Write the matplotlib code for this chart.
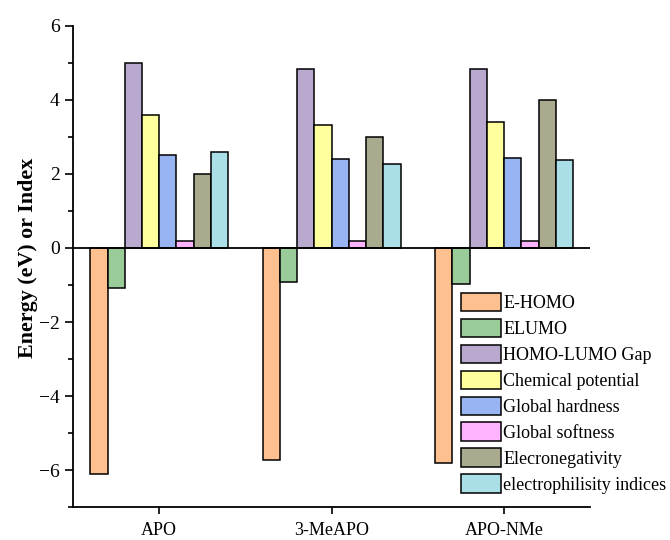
import numpy as np
import matplotlib.pyplot as plt
from matplotlib.ticker import MultipleLocator

plt.rcParams['font.family'] = ['Liberation Serif', 'DejaVu Serif']

molecules = ["APO", "3-MeAPO", "APO-NMe"]
labels = ["E-HOMO", "ELUMO", "HOMO-LUMO Gap", "Chemical potential",
          "Global hardness", "Global softness", "Elecronegativity",
          "electrophilisity indices"]
e_homo = [-6.10, -5.73, -5.82]
e_lumo = [-1.09, -0.91, -0.98]
gap = [5.01, 4.83, 4.84]
chem_pot = [3.60, 3.32, 3.40]
hardness = [2.51, 2.40, 2.42]
softness = [0.20, 0.20, 0.20]
electroneg = [2.00, 3.00, 4.00]
electrophil = [2.58, 2.27, 2.38]
colors = ["#ffc08f", "#99cc99", "#b9a9cf", "#ffff9e",
          "#98b4f2", "#ffb3ff", "#aaaa8f", "#aadfe8"]

series = [e_homo, e_lumo, gap, chem_pot, hardness, softness, electroneg, electrophil]

fig = plt.figure(figsize=(6.7, 5.4), dpi=100)
ax = fig.add_axes([0.109, 0.061, 0.772, 0.891])

x = np.arange(len(molecules))
w = 0.1
for i, vals in enumerate(series):
    ax.bar(x + (i - 3.5) * w, vals, w, color=colors[i], edgecolor="black",
           linewidth=1.1, label=labels[i])

ax.axhline(0, color="black", linewidth=1.3, zorder=3)
ax.set_xlim(-0.5, 2.5)
ax.set_ylim(-7, 6)
ax.set_xticks(x)
ax.set_xticklabels(molecules, fontsize=13)
ax.yaxis.set_minor_locator(MultipleLocator(1))
ax.set_yticks([-6, -4, -2, 0, 2, 4, 6])
ax.set_yticklabels(["\u22126", "\u22124", "\u22122", "0", "2", "4", "6"], fontsize=14)
ax.tick_params(axis="y", which="major", length=6, width=1.2, direction="out")
ax.tick_params(axis="y", which="minor", length=3.5, width=1.2, direction="out")
ax.tick_params(axis="x", which="major", length=5, width=1.2, direction="out", pad=6)
for s in ["top", "right"]:
    ax.spines[s].set_visible(False)
for s in ["left", "bottom"]:
    ax.spines[s].set_linewidth(1.3)

ax.set_ylabel("Energy (eV) or Index", fontsize=15.8, fontweight="bold")
ax.yaxis.set_label_coords(-0.068, 0.518)

ax.legend(loc="upper left", bbox_to_anchor=(0.688, 0.458),
          bbox_transform=fig.transFigure, frameon=False, fontsize=13,
          handlelength=2.2, handleheight=1.22, labelspacing=0.36,
          handletextpad=0.15, borderpad=0, borderaxespad=0)

fig.savefig("out.png", dpi=100)
